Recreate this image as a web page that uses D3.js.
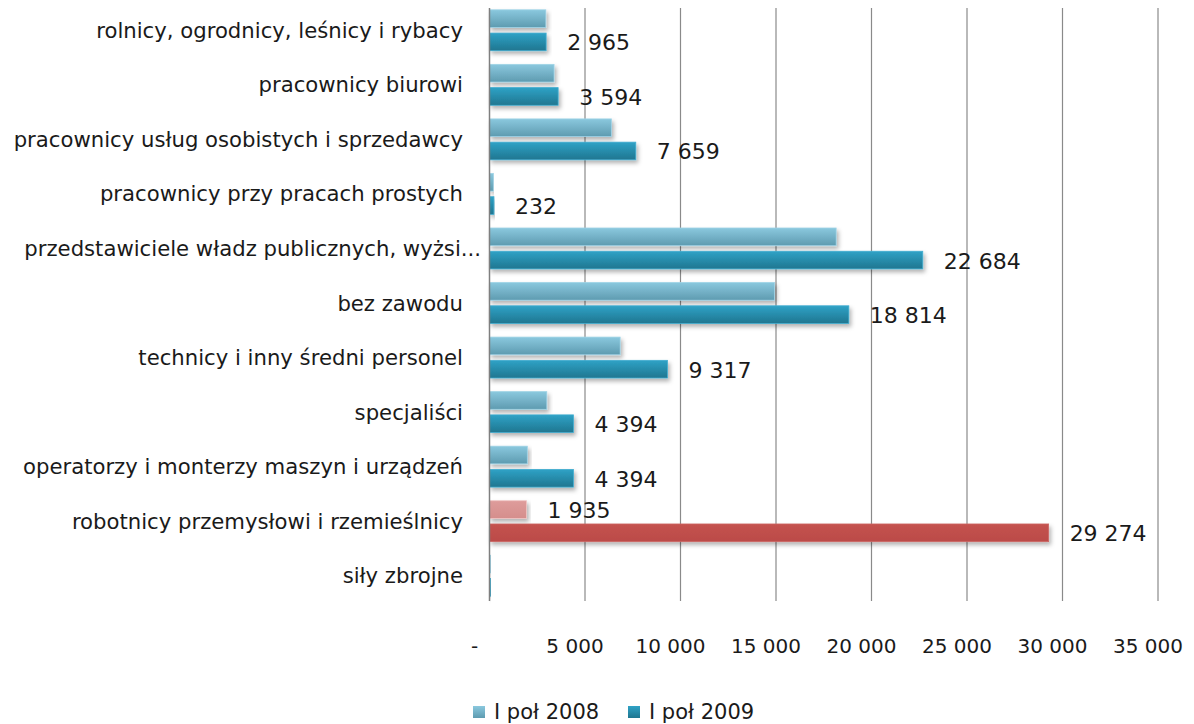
<!DOCTYPE html>
<html>
<head>
<meta charset="utf-8">
<script src="https://cdn.jsdelivr.net/npm/d3@7"></script>
<style>
  body { margin: 0; background: #fff; }
  text { font-family: "DejaVu Sans", sans-serif; fill: #1a1a1a; }
</style>
</head>
<body>
<script>
const categories = [
    "rolnicy, ogrodnicy, leśnicy i rybacy",
    "pracownicy biurowi",
    "pracownicy usług osobistych i sprzedawcy",
    "pracownicy przy pracach prostych",
    "przedstawiciele władz publicznych, wyżsi...",
    "bez zawodu",
    "technicy i inny średni personel",
    "specjaliści",
    "operatorzy i monterzy maszyn i urządzeń",
    "robotnicy przemysłowi i rzemieślnicy",
    "siły zbrojne"
];
const seriesNames = ["I poł 2008", "I poł 2009"];
const values2008 = [2950, 3380, 6380, 200, 18150, 14920, 6840, 3000, 1980, 1935, 60];
const values2009 = [2965, 3594, 7659, 232, 22684, 18814, 9317, 4394, 4394, 29274, 70];
// which bars carry a value label
const labels2008 = [false, false, false, false, false, false, false, false, false, true, false];
const labels2009 = [true, true, true, true, true, true, true, true, true, true, false];
const highlighted = "robotnicy przemysłowi i rzemieślnicy";
const xTicks = [0, 5000, 10000, 15000, 20000, 25000, 30000, 35000];

function main() {
    let svg = d3.select("body").append("svg")
        .attr("width", 1194)
        .attr("height", 724);

    let defs = svg.append("defs");
    function grad(id, top, bottom) {
        let g = defs.append("linearGradient").attr("id", id)
            .attr("x1", 0).attr("y1", 0).attr("x2", 0).attr("y2", 1);
        g.append("stop").attr("offset", "0%").attr("stop-color", top);
        g.append("stop").attr("offset", "100%").attr("stop-color", bottom);
    }
    grad("g2008", "#8ac8de", "#5e9bb0");
    grad("g2009", "#2fa2c6", "#1f7690");
    grad("gRed", "#c4524f", "#bb4b48");
    grad("gPink", "#de9c9b", "#d58e8c");

    let shadow = defs.append("filter").attr("id", "shadow")
        .attr("x", "-5%").attr("y", "-30%").attr("width", "115%").attr("height", "180%");
    shadow.append("feDropShadow").attr("dx", 2).attr("dy", 3)
        .attr("stdDeviation", 2).attr("flood-color", "#000").attr("flood-opacity", 0.3);

    let x = d3.scaleLinear().domain([0, 35000]).range([489.5, 1158]);
    let y = d3.scaleBand().domain(categories).range([3, 603])
        .paddingInner(0.25).paddingOuter(0.125);
    let ySub = d3.scaleBand().domain(seriesNames).range([0, y.bandwidth()]).paddingInner(0.24);

    let fmt = d3.formatLocale({ decimal: ",", thousands: " ", grouping: [3], currency: ["", " zł"] }).format(",");

    // gridlines
    svg.append("g").selectAll("line")
        .data(xTicks.filter(d => d > 0))
        .join("line")
        .attr("x1", d => x(d)).attr("x2", d => x(d))
        .attr("y1", 8).attr("y2", 601)
        .attr("stroke", "#8a8a8a").attr("stroke-width", 1.2);

    // axis tick labels (sit a little left of their gridline, like the original)
    svg.append("g").selectAll("text")
        .data(xTicks)
        .join("text")
        .attr("x", d => d === 0 ? x(d) - 15 : x(d) - 10)
        .attr("y", 653)
        .attr("text-anchor", "middle")
        .style("font-size", "20px")
        .text(d => d === 0 ? "-" : fmt(d));

    let rows = categories.map((c, i) => ({
        cat: c, v2008: values2008[i], v2009: values2009[i], l2008: labels2008[i], l2009: labels2009[i]
    }));

    let bars = [];
    rows.forEach(r => {
        let hi = r.cat === highlighted;
        bars.push({ cat: r.cat, s: seriesNames[0], v: r.v2008, label: r.l2008, fill: hi ? "url(#gPink)" : "url(#g2008)", stroke: hi ? "#f0c4c3" : "#9fd3e6" });
        bars.push({ cat: r.cat, s: seriesNames[1], v: r.v2009, label: r.l2009, fill: hi ? "url(#gRed)" : "url(#g2009)", stroke: hi ? "#cc6663" : "#41add0" });
    });

    svg.append("g").selectAll("rect")
        .data(bars)
        .join("rect")
        .attr("x", x(0))
        .attr("y", d => y(d.cat) + ySub(d.s))
        .attr("width", d => x(d.v) - x(0))
        .attr("height", ySub.bandwidth())
        .attr("fill", d => d.fill)
        .attr("stroke", d => d.stroke)
        .attr("stroke-width", 0.8)
        .attr("filter", "url(#shadow)");

    // value labels
    svg.append("g").selectAll("text")
        .data(bars.filter(d => d.label))
        .join("text")
        .attr("x", d => x(d.v) + 21)
        .attr("y", d => y(d.cat) + ySub(d.s) + ySub.bandwidth() / 2 + 8.5)
        .style("font-size", "22px")
        .text(d => fmt(d.v));

    // y axis line
    svg.append("line")
        .attr("x1", x(0)).attr("x2", x(0))
        .attr("y1", 8).attr("y2", 601)
        .attr("stroke", "#7f7f7f").attr("stroke-width", 1.5);

    // category labels (the truncated one runs past the others)
    svg.append("g").selectAll("text")
        .data(categories)
        .join("text")
        .attr("x", d => d.endsWith("...") ? 481 : 463)
        .attr("y", d => y(d) + y.bandwidth() / 2 + 7.5)
        .attr("text-anchor", "end")
        .style("font-size", "21.2px")
        .text(d => d);

    // legend
    let legend = svg.append("g");
    let lx = [473, 628];
    seriesNames.forEach((s, i) => {
        legend.append("rect")
            .attr("x", lx[i]).attr("y", 706)
            .attr("width", 12).attr("height", 12)
            .attr("fill", i === 0 ? "url(#g2008)" : "url(#g2009)");
        legend.append("text")
            .attr("x", lx[i] + 21).attr("y", 719)
            .style("font-size", "21px")
            .text(s);
    });
}

main()
</script>
</body>
</html>
